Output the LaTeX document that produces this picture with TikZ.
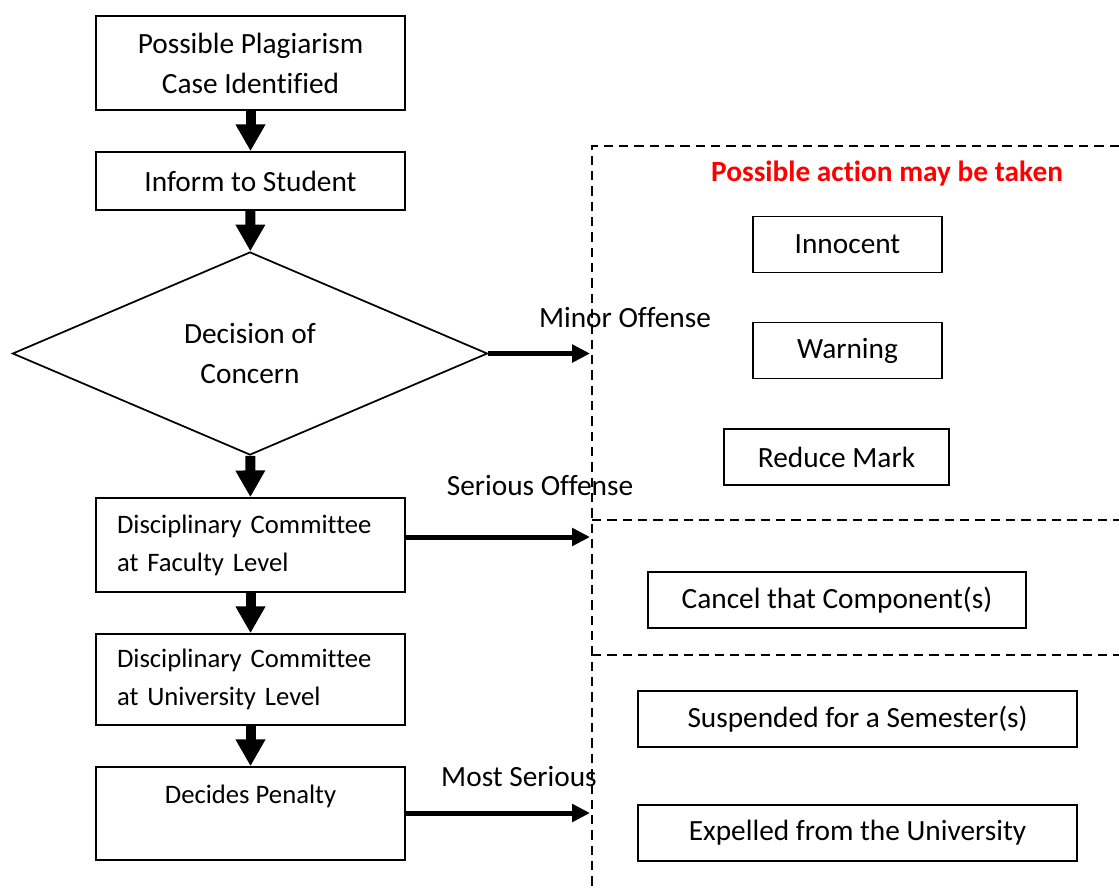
\documentclass[tikz,border=0pt]{standalone}
\usepackage{fontspec}
\setmainfont{Carlito}[Ligatures=NoCommon]
\usetikzlibrary{arrows.meta,shapes.geometric}

\begin{document}
\begin{tikzpicture}[x=0.75pt,y=-0.75pt,
  box/.style={draw,line width=1.3pt,minimum width=231.75pt,align=center,font=\fontsize{22}{30}\selectfont},
  leftbox/.style={draw,line width=1.3pt,minimum width=231.75pt,inner xsep=15.75pt,text width=200.25pt,align=left,font=\fontsize{20}{28.5}\selectfont},
  choice/.style={draw,line width=1.3pt,shape=diamond,aspect=2.34,inner sep=0pt,minimum width=356.25pt,minimum height=152.25pt,align=center,font=\fontsize{22}{30}\selectfont},
  action/.style={draw,line width=1.3pt,minimum height=42pt,font=\fontsize{22}{26}\selectfont},
  tag/.style={font=\fontsize{22}{26}\selectfont},
  downarrow/.style={line width=7.5pt,-{Triangle[width=21pt,length=20pt]}},
  sidearrow/.style={line width=3.75pt,-{Triangle[width=13pt,length=13.5pt]}},
  border/.style={line width=1.3pt,dash pattern=on 7pt off 4.5pt}]
\useasboundingbox (0,0) rectangle (1119,890);

% left column
\node[box,minimum height=70.5pt] (plag) at (250.5,63) {Possible Plagiarism\\Case Identified};
\node[box,minimum height=43.5pt] (inform) at (250.5,181) {Inform to Student};
\node[choice] (decision) at (250,353.5) {Decision of\\Concern};
\node[leftbox,minimum height=70.5pt] (faculty) at (250.5,545) {Disciplinary Committee\\at Faculty Level};
\node[leftbox,minimum height=68.25pt] (univ) at (250.5,679.5) {Disciplinary Committee\\at University Level};
\node[draw,line width=1.3pt,minimum width=231.75pt,inner ysep=0pt,text height=27pt,text depth=42.75pt,font=\fontsize{20}{24}\selectfont] (penalty) at (250.5,813.5) {Decides Penalty};

\draw[downarrow] (plag) -- (inform);
\draw[downarrow] (inform) -- (decision);
\draw[downarrow] (decision) -- (faculty);
\draw[downarrow] (faculty) -- (univ);
\draw[downarrow] (univ) -- (penalty);

% dashed frame
\coordinate (c1) at (592,146);
\coordinate (c2) at (1119,146);
\coordinate (c3) at (592,890);
\coordinate (c4) at (592,520);
\coordinate (c5) at (1119,520);
\coordinate (c6) at (592,655);
\coordinate (c7) at (1119,655);
\draw[border] (c2) -- (c1) -- (c3);
\draw[border] (c4) -- (c5);
\draw[border] (c6) -- (c7);

% side arrows
\coordinate (minor) at (590,353.5);
\coordinate (serious) at (590,537);
\coordinate (most) at (590,813);
\draw[sidearrow] (decision.east) -- (minor);
\draw[sidearrow] (faculty.east |- serious) -- (serious);
\draw[sidearrow] (penalty.east |- most) -- (most);
\node[tag] (minorlbl) at (625,318) {Minor Offense};
\node[tag] (seriouslbl) at (540,486) {Serious Offense};
\node[tag] (mostlbl) at (519,776) {Most Serious};

% actions
\node[text=red,font=\fontsize{22}{26}\selectfont\bfseries] (title) at (887,174) {Possible action may be taken};
\node[action,minimum width=141.75pt] (innocent) at (847.5,244.5) {Innocent};
\node[action,minimum width=141.75pt] (warning) at (847.5,350.5) {Warning};
\node[action,minimum width=168.75pt] (reduce) at (836.5,457) {Reduce Mark};
\node[action,minimum width=283.5pt] (cancel) at (837,600) {Cancel that Component(s)};
\node[action,minimum width=329.25pt] (suspend) at (857.5,719) {Suspended for a Semester(s)};
\node[action,minimum width=329.25pt] (expel) at (857.5,833) {Expelled from the University};
\end{tikzpicture}
\end{document}
